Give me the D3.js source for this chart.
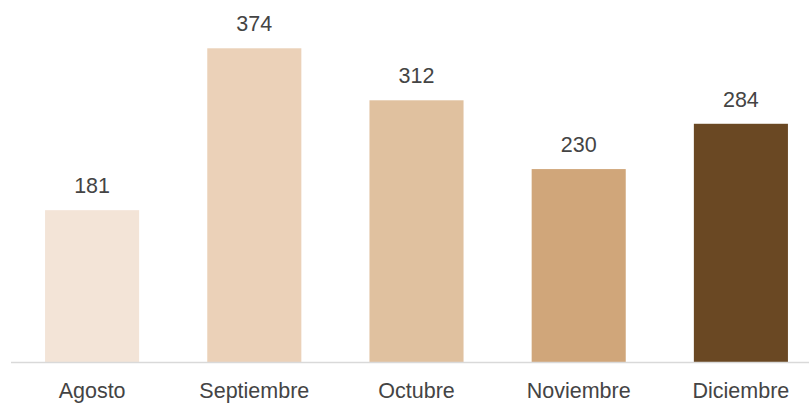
<!DOCTYPE html>
<html>
<head>
<meta charset="utf-8">
<script src="https://cdn.jsdelivr.net/npm/d3@7"></script>
<style>
  body { margin: 0; background: #fff; }
  svg { display: block; font-family: "Liberation Sans", Arial, sans-serif; }
</style>
</head>
<body>
<div id="graf"></div>
<script>
// Datos
const meses = ["Agosto", "Septiembre", "Octubre", "Noviembre", "Diciembre"]
const valores = [181, 374, 312, 230, 284]
const colores = ["#F3E4D7", "#EBD1B8", "#E0C19F", "#D0A67A", "#6A4823"]

const anchoTotal = 809
const altoTotal = 403
const base = 362

const svg = d3.select("#graf").append("svg")
    .attr("width", anchoTotal)
    .attr("height", altoTotal)

// Escaladores
const x = d3.scaleBand()
    .domain(meses)
    .range([11, 822])
    .paddingInner(0.42)
    .paddingOuter(0.21)

const y = d3.scaleLinear()
    .domain([0, 400])
    .range([base, base - 0.8388 * 400])

const color = d3.scaleOrdinal().domain(meses).range(colores)

// Barras
svg.selectAll("rect.barra")
    .data(meses)
    .enter()
    .append("rect")
    .attr("class", "barra")
    .attr("x", d => x(d))
    .attr("y", (d, i) => y(valores[i]))
    .attr("width", x.bandwidth())
    .attr("height", (d, i) => y(0) - y(valores[i]))
    .attr("fill", d => color(d))

// Etiquetas de valor
svg.selectAll("text.valor")
    .data(meses)
    .enter()
    .append("text")
    .attr("class", "valor")
    .attr("x", d => x(d) + x.bandwidth() / 2)
    .attr("y", (d, i) => y(valores[i]) - 17)
    .attr("text-anchor", "middle")
    .attr("font-size", 21.5)
    .attr("fill", "#444")
    .text((d, i) => valores[i])

// Eje x
const xAxis = d3.axisBottom(x).tickSize(0).tickPadding(21)
const ejeX = svg.append("g")
    .attr("transform", `translate(0,${base})`)
    .call(xAxis)
ejeX.select(".domain").remove()
ejeX.selectAll("text")
    .attr("font-size", 21.5)
    .attr("font-family", "Liberation Sans, Arial, sans-serif")
    .attr("fill", "#444")
svg.append("line")
    .attr("x1", 11).attr("x2", 809)
    .attr("y1", base + 0.5).attr("y2", base + 0.5)
    .attr("stroke", "#D9D9D9")
    .attr("stroke-width", 1.5)
</script>
</body>
</html>
